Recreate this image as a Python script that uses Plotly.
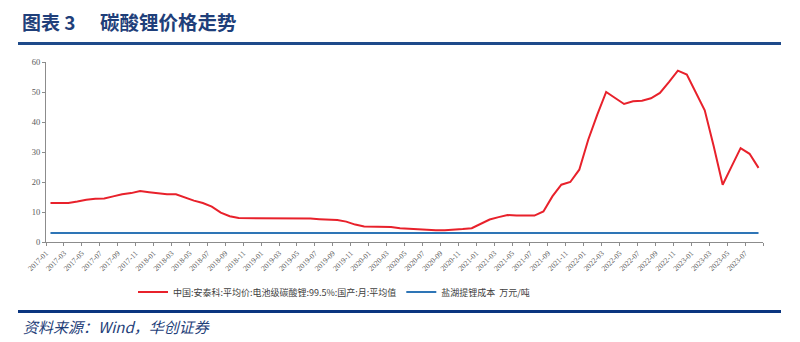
import plotly.graph_objects as go

months = [f"{y}-{m:02d}" for y in range(2017, 2024) for m in range(1, 13)][:80]

price = [13.0, 13.0, 13.0, 13.5, 14.1, 14.4, 14.5, 15.2, 15.9, 16.3,
         17.0, 16.6, 16.2, 15.9, 15.9, 14.8, 13.8, 13.0, 11.8, 9.8,
         8.6, 8.0, 8.0, 8.0, 8.0, 8.0, 7.9, 7.8, 7.8, 7.8,
         7.6, 7.4, 7.3, 6.8, 5.8, 5.2, 5.1, 5.1, 5.0, 4.6,
         4.4, 4.2, 4.0, 3.9, 3.9, 4.0, 4.3, 4.6, 6.0, 7.5,
         8.3, 9.0, 8.8, 8.7, 8.8, 10.2, 15.2, 19.1, 20.0, 24.1,
         34.1, 42.4, 50.0, 48.0, 46.0, 46.9, 47.1, 47.9, 49.7, 53.3,
         57.1, 55.8, 49.7, 43.9, 31.9, 19.1, 25.2, 31.3, 29.4, 24.7]
cost = [3.0] * len(months)

name_price = "中国:安泰科:平均价:电池级碳酸锂:99.5%:国产:月:平均值"
name_cost = "盐湖提锂成本  万元/吨"

xs = list(range(len(months)))
tick_pos = [i - 0.5 for i in range(0, len(months) + 1, 2)]
tick_txt = [months[i] if i < len(months) else "" for i in range(0, len(months) + 1, 2)]

fig = go.Figure()
fig.add_trace(go.Scatter(x=xs, y=price, mode="lines", name=name_price,
                         text=months, line=dict(color="#E8212B", width=2)))
fig.add_trace(go.Scatter(x=xs, y=cost, mode="lines", name=name_cost,
                         text=months, line=dict(color="#2E75B6", width=2)))

L, R, T, B = 46, 37, 62, 100
W, H = 800, 342
pw, ph = W - L - R, H - T - B

def px(x):
    return (x - L) / pw

def py(y):
    return (H - B - y) / ph

fig.update_layout(
    width=W, height=H,
    margin=dict(l=L, r=R, t=T, b=B, pad=0),
    paper_bgcolor="white", plot_bgcolor="white",
    showlegend=True,
    legend=dict(orientation="h", x=px(334), xanchor="center", y=py(292), yanchor="middle",
                font=dict(family="Noto Sans CJK SC", size=9, color="#404040"),
                itemwidth=30, tracegroupgap=0, bgcolor="rgba(0,0,0,0)"),
    xaxis=dict(range=[-0.5, len(months) - 0.5], tickmode="array", tickvals=tick_pos, ticktext=tick_txt,
               tickangle=-45, ticks="outside", ticklen=3, tickcolor="#8C8C8C",
               showline=True, linecolor="#8C8C8C", linewidth=1, showgrid=False, zeroline=False,
               tickfont=dict(family="Liberation Serif", size=7.5, color="#595959")),
    yaxis=dict(range=[0, 60], dtick=10, ticks="outside", ticklen=3, tickcolor="#8C8C8C",
               showline=True, linecolor="#8C8C8C", linewidth=1, showgrid=False, zeroline=False,
               tickfont=dict(family="Liberation Serif", size=8.5, color="#595959")),
    font=dict(family="Noto Sans CJK SC"),
)

fig.add_annotation(text="<b>图表 3</b>", xref="paper", yref="paper", x=px(20), y=py(22),
                   xanchor="left", yanchor="middle", showarrow=False,
                   font=dict(family="Noto Sans CJK SC", size=19, color="#1F3F7A"))
fig.add_annotation(text="<b>碳酸锂价格走势</b>", xref="paper", yref="paper", x=px(98), y=py(22),
                   xanchor="left", yanchor="middle", showarrow=False,
                   font=dict(family="Noto Sans CJK SC", size=19.5, color="#1F3F7A"))
fig.add_annotation(text="<i>资料来源：Wind，华创证券</i>", xref="paper", yref="paper", x=px(21), y=py(326),
                   xanchor="left", yanchor="middle", showarrow=False,
                   font=dict(family="Noto Sans CJK SC", size=15, color="#1F3F7A"))

fig.add_shape(type="line", xref="paper", yref="paper", x0=px(18), x1=px(781), y0=py(43.5), y1=py(43.5),
              line=dict(color="#1E4A8A", width=3))
fig.add_shape(type="line", xref="paper", yref="paper", x0=px(18), x1=px(781), y0=py(311.5), y1=py(311.5),
              line=dict(color="#0A3580", width=3))

fig.write_html("out.html")
